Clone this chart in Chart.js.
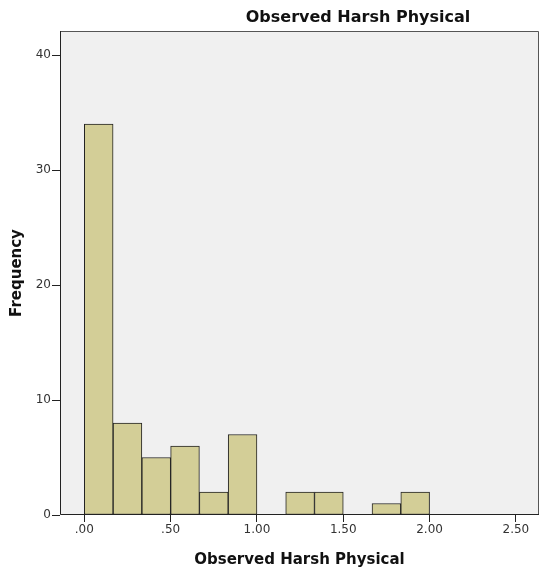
<!DOCTYPE html>
<html>
<head>
<meta charset="utf-8">
<script src="https://cdn.jsdelivr.net/npm/chart.js@4/dist/chart.umd.min.js"></script>
<style>
html,body{margin:0;padding:0;background:#fff;}
#wrap{width:540px;height:569px;position:relative;}
</style>
</head>
<body>
<div id="wrap"><canvas id="c" width="540" height="569"></canvas></div>
<script>
// Histogram bins (bin midpoints, width 1/6)
const binCenters = [0.0833, 0.25, 0.4167, 0.5833, 0.75, 0.9167, 1.0833, 1.25, 1.4167, 1.5833, 1.75, 1.9167];
const frequencies = [34, 8, 5, 6, 2, 7, 0, 2, 2, 0, 1, 2];
const xTickValues = [0, 0.5, 1.0, 1.5, 2.0, 2.5];
const xTickLabels = ['.00', '.50', '1.00', '1.50', '2.00', '2.50'];
const yTickValues = [0, 10, 20, 30, 40];
const chartTitle = 'Observed Harsh Physical';
const xAxisTitle = 'Observed Harsh Physical';
const yAxisTitle = 'Frequency';

const FONT = "'DejaVu Sans', sans-serif";

const bgPlugin = {
  id: 'bg',
  beforeDatasetsDraw(chart) {
    const a = chart.chartArea, ctx = chart.ctx;
    ctx.save();
    ctx.fillStyle = '#f0f0f0';
    ctx.fillRect(a.left, a.top, a.right - a.left, a.bottom - a.top);
    ctx.restore();
  },
  afterDatasetsDraw(chart) {
    const a = chart.chartArea, ctx = chart.ctx;
    ctx.save();
    ctx.lineWidth = 1;
    ctx.strokeStyle = '#555';
    ctx.beginPath();
    ctx.moveTo(a.left, a.top + 0.5);
    ctx.lineTo(a.right - 0.5, a.top + 0.5);
    ctx.lineTo(a.right - 0.5, a.bottom);
    ctx.stroke();
    ctx.strokeStyle = '#222';
    ctx.beginPath();
    ctx.moveTo(a.left + 0.5, a.top);
    ctx.lineTo(a.left + 0.5, a.bottom - 0.5);
    ctx.lineTo(a.right, a.bottom - 0.5);
    ctx.stroke();
    // title
    ctx.fillStyle = '#111';
    ctx.font = "bold 16px " + FONT;
    ctx.textAlign = 'center';
    ctx.textBaseline = 'middle';
    ctx.fillText(chartTitle, 358, 18);
    ctx.restore();
  }
};

new Chart(document.getElementById('c'), {
  type: 'bar',
  data: {
    datasets: [{
      data: binCenters.map((x, i) => ({x: x, y: frequencies[i]})),
      backgroundColor: '#d3ce97',
      borderColor: '#222',
      borderWidth: ctx => (ctx.raw && ctx.raw.y === 0) ? 0 : 1,
      borderSkipped: false,
      barPercentage: 1,
      categoryPercentage: 1
    }]
  },
  options: {
    responsive: false,
    animation: false,
    events: [],
    layout: {padding: {top: 31, right: 1, left: 0, bottom: 0}},
    plugins: {legend: {display: false}, tooltip: {enabled: false}, title: {display: false}},
    scales: {
      x: {
        type: 'linear',
        offset: false,
        min: -0.141,
        max: 2.634,
        afterBuildTicks: s => { s.ticks = xTickValues.map(v => ({value: v})); },
        afterFit: s => { s.height = 54; },
        border: {display: false},
        grid: {offset: false, drawOnChartArea: false, drawTicks: true, tickLength: 7, color: '#222', lineWidth: 1},
        ticks: {
          autoSkip: false, maxRotation: 0, padding: 1,
          color: '#333', font: {family: FONT, size: 12},
          callback: (v) => { const i = xTickValues.indexOf(v); return i >= 0 ? xTickLabels[i] : ''; }
        },
        title: {display: true, text: xAxisTitle, color: '#111', font: {family: FONT, size: 15, weight: 'bold'}, padding: {top: 5, bottom: 0}}
      },
      y: {
        min: 0,
        max: 42.1,
        afterBuildTicks: s => { s.ticks = yTickValues.map(v => ({value: v})); },
        afterFit: s => { s.width = 60; },
        border: {display: false},
        grid: {drawOnChartArea: false, drawTicks: true, tickLength: 8, color: '#222', lineWidth: 1},
        ticks: {color: '#333', font: {family: FONT, size: 12}, padding: 1},
        title: {display: true, text: yAxisTitle, color: '#111', font: {family: FONT, size: 15, weight: 'bold'}, padding: {top: 8, bottom: 0}}
      }
    }
  },
  plugins: [bgPlugin]
});
</script>
</body>
</html>
